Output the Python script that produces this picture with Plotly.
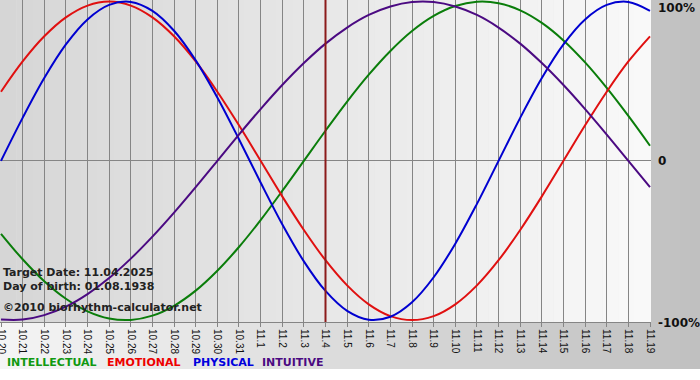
import plotly.graph_objects as go

# ---- data ----
dates = ["10.20", "10.21", "10.22", "10.23", "10.24", "10.25", "10.26", "10.27",
         "10.28", "10.29", "10.30", "10.31", "11.1", "11.2", "11.3", "11.4",
         "11.5", "11.6", "11.7", "11.8", "11.9", "11.10", "11.11", "11.12",
         "11.13", "11.14", "11.15", "11.16", "11.17", "11.18", "11.19"]

intellectual = [-0.458, -0.618, -0.756, -0.866, -0.945, -0.990, -0.999, -0.972,
                -0.910, -0.815, -0.690, -0.541, -0.372, -0.189, 0.000, 0.189,
                0.372, 0.541, 0.690, 0.815, 0.910, 0.972, 0.999, 0.990,
                0.945, 0.866, 0.756, 0.618, 0.458, 0.282, 0.095]

emotional = [0.434, 0.624, 0.782, 0.901, 0.975, 1.000, 0.975, 0.901,
             0.782, 0.624, 0.434, 0.223, 0.000, -0.223, -0.434, -0.624,
             -0.782, -0.901, -0.975, -1.000, -0.975, -0.901, -0.782, -0.624,
             -0.434, -0.223, 0.000, 0.223, 0.434, 0.624, 0.782]

physical = [0.000, 0.270, 0.520, 0.731, 0.888, 0.979, 0.998, 0.942,
            0.817, 0.631, 0.398, 0.136, -0.136, -0.398, -0.631, -0.817,
            -0.942, -0.998, -0.979, -0.888, -0.731, -0.520, -0.270, 0.000,
            0.270, 0.520, 0.731, 0.888, 0.979, 0.998, 0.942]

intuitive = [-0.997, -0.997, -0.969, -0.916, -0.837, -0.736, -0.614, -0.476,
             -0.325, -0.165, 0.000, 0.165, 0.325, 0.476, 0.614, 0.736,
             0.837, 0.916, 0.969, 0.997, 0.997, 0.969, 0.916, 0.837,
             0.736, 0.614, 0.476, 0.325, 0.165, 0.000, -0.165]

target_label = "11.4"
info_lines = ["Target Date: 11.04.2025", "Day of birth: 01.08.1938",
              "©2010 biorhythm-calculator.net"]
series_names = ["INTELLECTUAL", "EMOTIONAL", "PHYSICAL", "INTUITIVE"]
y_label_text = ["100%", "0", "-100%"]
y_label_vals = [1, 0, -1]

# ---- styling ----
W, H = 700, 380
ML, MR, MT, MB = 0, 49, 0, 58
PW, PH = W - ML - MR, H - MT - MB

line_colors = ["#0a7d0a", "#e01010", "#0000d0", "#4b0a82"]
legend_colors = ["#119911", "#ee0000", "#0000dd", "#4b0a82"]
legend_x = [7, 107, 193, 262]


def px_x(px):
    return (px - ML) / PW


def px_y(py):
    return (MT + PH - py) / PH


def gray(v):
    v = int(round(v))
    return f"rgb({v},{v},{v})"


series = [intellectual, emotional, physical, intuitive]

fig = go.Figure()
for name, vals, col in zip(series_names, series, line_colors):
    fig.add_trace(go.Scatter(x=dates, y=vals, mode="lines", name=name,
                             line=dict(color=col, width=2, shape="spline"),
                             hoverinfo="skip", showlegend=False))

shapes = []
# outer background gradient (light left -> gray right), white below
n_out = 70
for i in range(n_out):
    x0 = W * i / n_out
    x1 = W * (i + 1) / n_out + 0.5
    g = 245 - (245 - 192) * (i + 0.5) / n_out
    shapes.append(dict(type="rect", xref="paper", yref="paper",
                       x0=px_x(x0), x1=px_x(x1), y0=px_y(369), y1=px_y(0),
                       fillcolor=gray(g), line=dict(width=0), layer="below"))
# plot area gradient (gray left -> light right)
n_in = 40
for i in range(n_in):
    x0 = PW * i / n_in
    x1 = PW * (i + 1) / n_in + 0.5
    g = 214 + (249 - 214) * (i + 0.5) / n_in
    shapes.append(dict(type="rect", xref="paper", yref="paper",
                       x0=px_x(x0), x1=min(px_x(x1), 1.0), y0=0, y1=1,
                       fillcolor=gray(g), line=dict(width=0), layer="below"))
# target date line
ti = dates.index(target_label)
shapes.append(dict(type="line", xref="x", yref="paper", x0=ti, x1=ti, y0=0, y1=1,
                   line=dict(color="#8b1a1a", width=2), layer="above"))

annotations = []
bold = dict(family="DejaVu Sans", size=11, color="#222222", weight="bold")
for txt, cy in zip(info_lines, [272, 286, 307]):
    annotations.append(dict(text=txt, xref="paper", yref="paper", x=px_x(1), y=px_y(cy),
                            xanchor="left", yanchor="middle", showarrow=False, font=bold))
for txt, v, sh in zip(y_label_text, y_label_vals, [-6, 0, -3]):
    annotations.append(dict(text=txt, xref="paper", yref="y", x=1, y=v, xshift=5, yshift=sh,
                            xanchor="left", yanchor="middle", showarrow=False,
                            font=dict(family="DejaVu Sans", size=12, color="#111111",
                                      weight="bold")))
for txt, col, lx in zip(series_names, legend_colors, legend_x):
    annotations.append(dict(text=txt, xref="paper", yref="paper", x=px_x(lx - 2), y=px_y(362),
                            xanchor="left", yanchor="middle", showarrow=False,
                            font=dict(family="DejaVu Sans", size=11, color=col, weight="bold")))

fig.update_layout(
    width=W, height=H,
    margin=dict(l=ML, r=MR, t=MT, b=MB, pad=0, autoexpand=False),
    paper_bgcolor="white",
    plot_bgcolor="rgba(0,0,0,0)",
    showlegend=False,
    shapes=shapes,
    annotations=annotations,
    xaxis=dict(type="category", range=[-0.046, 30.046], showgrid=True, automargin=False,
               gridcolor="#858585", gridwidth=1, showline=True, linecolor="#858585",
               linewidth=1, ticks="outside", ticklen=4, tickcolor="#858585",
               tickangle=90, tickfont=dict(family="Liberation Sans", size=10, color="#111111"),
               fixedrange=True, zeroline=False),
    yaxis=dict(range=[-1.012, 1.01], showgrid=False, zeroline=True, automargin=False,
               zerolinecolor="#858585", zerolinewidth=1, showticklabels=False,
               ticks="", fixedrange=True),
)

fig.write_html("out.html",
               config={"displayModeBar": False, "staticPlot": True},
               post_script="document.body.style.margin='0';document.body.style.overflow='hidden';")
